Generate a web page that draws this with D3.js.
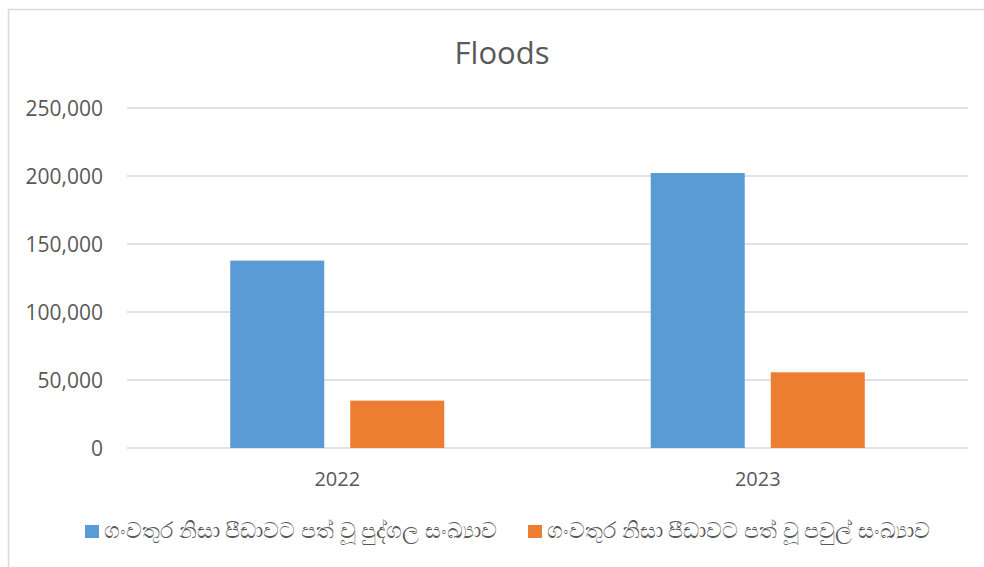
<!DOCTYPE html>
<html>
<head>
<meta charset="utf-8">
<script src="https://cdn.jsdelivr.net/npm/d3@7"></script>
<style>
  body { margin: 0; background: #fff; }
  svg { display: block; font-family: "Open Sans", "Noto Sans", sans-serif; }
</style>
</head>
<body>
<svg id="chart" width="984" height="567"></svg>
<script>
// Chart data
const years = ['2022', '2023'];
const seriesNames = [
    'ගංවතුර නිසා පීඩාවට පත් වූ පුද්ගල සංඛ්‍යාව',
    'ගංවතුර නිසා පීඩාවට පත් වූ පවුල් සංඛ්‍යාව'
];
const people = [137800, 202200];
const families = [34850, 55660];
const yTicks = [0, 50000, 100000, 150000, 200000, 250000];
const colors = ['#5b9bd5', '#ed7d31'];

const svg = d3.select('#chart');
const plot = { left: 127, right: 968, top: 108, bottom: 448 };

// outer chart frame (runs past right/bottom edge like the screenshot)
svg.append('rect')
    .attr('x', 8.5).attr('y', 9.5)
    .attr('width', 990).attr('height', 600)
    .attr('fill', 'none')
    .attr('stroke', '#d9d9d9')
    .attr('stroke-width', 1.5);

const x0 = d3.scaleBand()
    .domain(years)
    .range([plot.left, plot.right])
    .paddingInner(0.491)
    .paddingOuter(0.2455);

const x1 = d3.scaleBand()
    .domain([0, 1])
    .range([0, x0.bandwidth()])
    .paddingInner(0.2167);

const y = d3.scaleLinear()
    .domain([0, 250000])
    .range([plot.bottom, plot.top]);

// gridlines
svg.append('g')
    .selectAll('line')
    .data(yTicks)
    .join('line')
    .attr('x1', plot.left)
    .attr('x2', plot.right)
    .attr('y1', d => y(d))
    .attr('y2', d => y(d))
    .attr('stroke', '#d9d9d9')
    .attr('stroke-width', 1.3);

// y labels
svg.append('g')
    .selectAll('text')
    .data(yTicks)
    .join('text')
    .attr('x', 103)
    .attr('y', d => y(d))
    .attr('dy', '0.36em')
    .attr('text-anchor', 'end')
    .attr('font-size', 21)
    .attr('fill', '#595959')
    .text(d => d3.format(',')(d));

// bars
const rows = years.map((yr, i) => ({ year: yr, values: [people[i], families[i]] }));
svg.append('g')
    .selectAll('g')
    .data(rows)
    .join('g')
    .attr('transform', d => `translate(${x0(d.year)},0)`)
    .selectAll('rect')
    .data(d => d.values.map((v, k) => ({ k, v })))
    .join('rect')
    .attr('x', d => x1(d.k))
    .attr('width', x1.bandwidth())
    .attr('y', d => y(d.v))
    .attr('height', d => y(0) - y(d.v))
    .attr('fill', d => colors[d.k]);

// x labels
svg.append('g')
    .selectAll('text')
    .data(years)
    .join('text')
    .attr('x', d => x0(d) + x0.bandwidth() / 2)
    .attr('y', 486)
    .attr('text-anchor', 'middle')
    .attr('font-size', 20)
    .attr('fill', '#595959')
    .text(d => d);

// title
svg.append('text')
    .attr('x', 502)
    .attr('y', 64)
    .attr('text-anchor', 'middle')
    .attr('font-size', 31)
    .attr('fill', '#595959')
    .text('Floods');

// legend
const legendX = [85, 528];
const legend = svg.append('g')
    .selectAll('g')
    .data(seriesNames)
    .join('g')
    .attr('transform', (d, i) => `translate(${legendX[i]},525)`);
legend.append('rect')
    .attr('width', 14).attr('height', 13)
    .attr('fill', (d, i) => colors[i]);
legend.append('text')
    .attr('x', 19)
    .attr('y', 13)
    .attr('font-size', 21.7)
    .attr('fill', '#595959')
    .text(d => d);
</script>
</body>
</html>
